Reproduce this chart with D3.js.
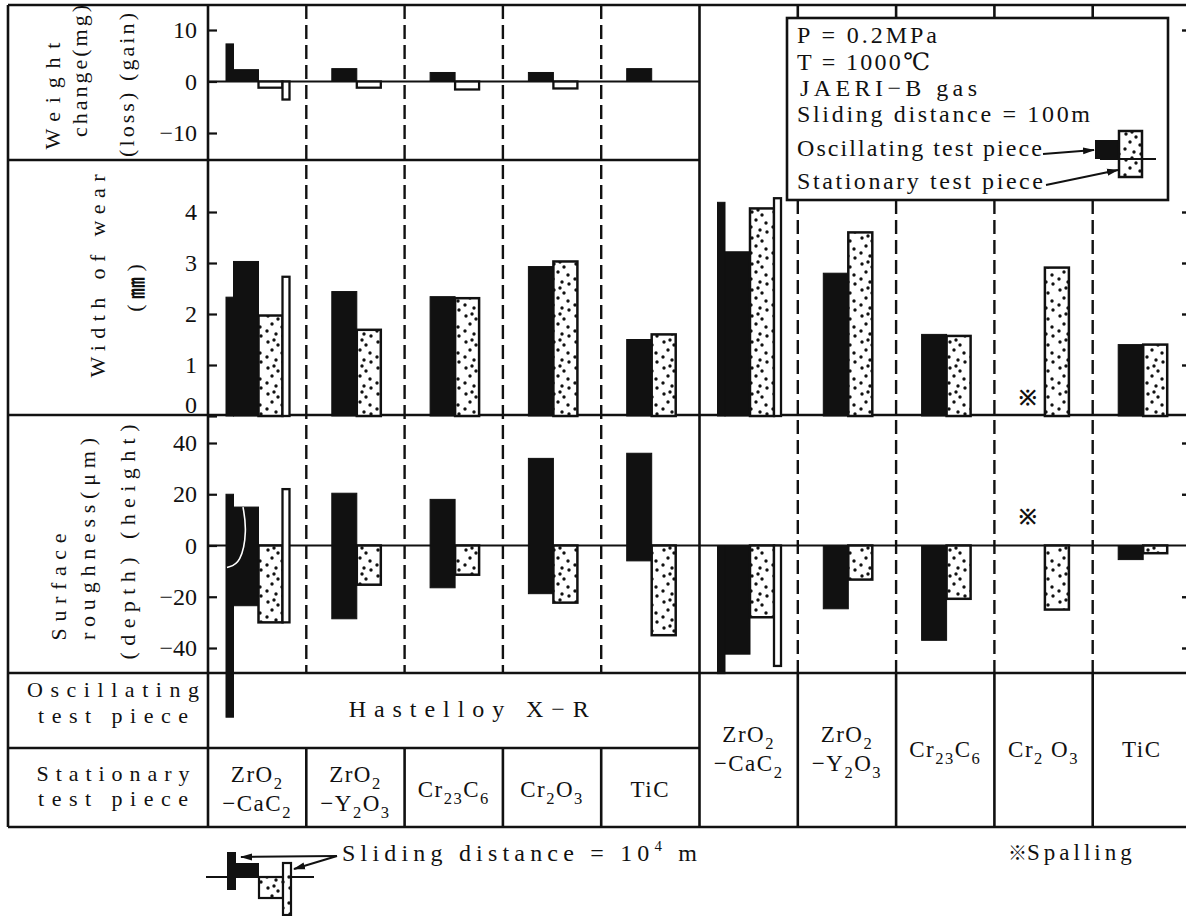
<!DOCTYPE html>
<html>
<head>
<meta charset="utf-8">
<script src="https://cdn.jsdelivr.net/npm/d3@7"></script>
<style>
  html, body { margin: 0; padding: 0; background: #fff; }
  svg text { font-family: "Liberation Serif", "DejaVu Serif", serif; fill: #111; }
</style>
</head>
<body>
<svg id="chart" width="1186" height="916"></svg>
<script>
// ---- Data -------------------------------------------------------------
// Columns 0-4: oscillating piece Hastelloy X-R against the stationary ceramics.
// Columns 5-9: oscillating and stationary piece of the same ceramic.
// "_n" marks a subscript, "|" a line break.
const stationaryPieces = ["ZrO_2|−CaC_2", "ZrO_2|−Y_2O_3", "Cr_23C_6", "Cr_2O_3", "TiC"];
const ceramicPairs     = ["ZrO_2|−CaC_2", "ZrO_2|−Y_2O_3", "Cr_23C_6", "Cr_2 O_3", "TiC"];
const oscillatingAlloy = "Hastelloy X−R";

const weightTicks = [-10, 0, 10];
const wearTicks   = [0, 1, 2, 3, 4];
const roughTicks  = [-40, -20, 0, 20, 40];

// Weight change (mg), sliding distance 100 m
const weightOsc100  = [2.3, 2.5, 1.75, 1.75, 2.5, null, null, null, null, null];
const weightStat100 = [-1.2, -1.2, -1.55, -1.35, null, null, null, null, null, null];
// Weight change (mg), sliding distance 10^4 m
const weightOsc1e4  = [7.3, null, null, null, null, null, null, null, null, null];
const weightStat1e4 = [-3.5, null, null, null, null, null, null, null, null, null];

// Width of wear (mm)
const wearOsc100  = [3.03, 2.44, 2.34, 2.93, 1.5, 3.22, 2.8, 1.6, null, 1.4];
const wearStat100 = [1.97, 1.69, 2.31, 3.03, 1.6, 4.07, 3.6, 1.57, 2.91, 1.4];
const wearOsc1e4  = [2.33, null, null, null, null, 4.19, null, null, null, null];
const wearStat1e4 = [2.73, null, null, null, null, 4.27, null, null, null, null];

// Surface roughness (um): height (+) and depth (-)
const roughOscHeight100  = [15, 20.4, 18, 34, 36, 0, 0, 0, null, 0];
const roughOscDepth100   = [-23.5, -28.6, -16.5, -18.8, -6, -42.4, -24.7, -37, null, -5.5];
const roughStatHeight100 = [0, 0, 0, 0, 0, 0, 0, 0, 0, 0];
const roughStatDepth100  = [-30, -15.3, -11.4, -22.3, -35, -28, -13.3, -20.8, -25, -3];
const roughOscHeight1e4  = [20, null, null, null, null, 0, null, null, null, null];
const roughOscDepth1e4   = [-67, null, null, null, null, -50, null, null, null, null];
const roughStatHeight1e4 = [22, null, null, null, null, 0, null, null, null, null];
const roughStatDepth1e4  = [-30, null, null, null, null, -47, null, null, null, null];

// Oscillating piece that spalled (no wear / roughness value)
const spalled = [false, false, false, false, false, false, false, false, true, false];

// ---- Layout -----------------------------------------------------------
const svg = d3.select("#chart");
const LEFT = 8, AXIS = 208, RIGHT = 1191, W = 1186;
const ROW = { top: 5, weight: 160, wear: 415, rough: 673, osc: 748, bottom: 827 };
const INK = "#111";
const REF_MARK = "\u203B\uFE0E";

const x = d3.scaleBand().domain(d3.range(10)).range([AXIS, RIGHT]);
const slot = { osc1e4: [18, 25.5], osc: [25.5, 50.5], stat: [50.5, 74.5], stat1e4: [74.5, 81.5] };

const yWeight = d3.scaleLinear().domain([-10, 10]).range([133, 30]);
const yWear   = d3.scaleLinear().domain([0, 4]).range([416, 212]);
const yRough  = d3.scaleLinear().domain([-40, 40]).range([648, 443]);

// ---- Defs: dotted fill, arrowheads -------------------------------------
const defs = svg.append("defs");
const pat = defs.append("pattern").attr("id", "dots")
  .attr("patternUnits", "userSpaceOnUse").attr("width", 22).attr("height", 26);
pat.append("rect").attr("width", 22).attr("height", 26).attr("fill", "#fff");
[[4, 4], [14, 7], [8, 12], [18, 15], [3, 19], [12, 22], [19, 24], [10, 2]].forEach(([cx, cy]) =>
  pat.append("circle").attr("cx", cx).attr("cy", cy).attr("r", 1.7).attr("fill", INK));
defs.append("marker").attr("id", "arrow").attr("viewBox", "0 0 12 8")
  .attr("refX", 11).attr("refY", 4).attr("markerWidth", 12).attr("markerHeight", 8)
  .attr("markerUnits", "userSpaceOnUse").attr("orient", "auto")
  .append("path").attr("d", "M0,0.5 L12,4 L0,7.5 Z").attr("fill", INK);

// ---- Helpers ------------------------------------------------------------
function line(x1, y1, x2, y2, opts = {}) {
  return svg.append("line").attr("x1", x1).attr("y1", y1).attr("x2", x2).attr("y2", y2)
    .attr("stroke", INK).attr("stroke-width", opts.w || 2.6)
    .attr("stroke-dasharray", opts.dash || null)
    .attr("marker-end", opts.arrow ? "url(#arrow)" : null);
}

// Append text with "_n" subscripts and "^n" superscripts as tspans
function rich(textSel, str, size) {
  let shift = 0;
  str.split(/(_\d+|\^\d+)/).filter(Boolean).forEach(p => {
    let target = 0, s = size, t = p;
    if (p[0] === "_") { target = size * 0.3; s = size * 0.72; t = p.slice(1); }
    else if (p[0] === "^") { target = -size * 0.42; s = size * 0.62; t = p.slice(1); }
    textSel.append("tspan").attr("font-size", s).attr("dy", target - shift).text(t);
    shift = target;
  });
  return textSel;
}

function label(str, px, py, o = {}) {
  const t = svg.append("text").attr("x", px).attr("y", py)
    .attr("font-size", o.size || 22)
    .attr("text-anchor", o.anchor || "middle")
    .attr("letter-spacing", o.ls || null);
  if (o.len) t.attr("textLength", o.len).attr("lengthAdjust", "spacing");
  rich(t, str, o.size || 22);
  return t;
}

function vlabel(str, cx, cy, o = {}) {
  const t = svg.append("text").attr("transform", `translate(${cx},${cy}) rotate(-90)`)
    .attr("font-size", o.size || 22).attr("text-anchor", "middle")
    .attr("dominant-baseline", "central");
  if (o.len) t.attr("textLength", o.len).attr("lengthAdjust", "spacing");
  t.text(str);
  return t;
}

// ---- Frame and grid ------------------------------------------------------
[ROW.top, ROW.wear, ROW.rough, ROW.bottom].forEach(y => line(LEFT, y, W, y));
[ROW.weight, ROW.osc].forEach(y => line(LEFT, y, x(5), y));
[LEFT, AXIS, x(5)].forEach(xx => line(xx, ROW.top, xx, ROW.bottom));

const DASH = "14 6";
[1, 2, 3, 4].forEach(i => {
  line(x(i), ROW.top, x(i), ROW.rough, { dash: DASH, w: 2.4 });
  line(x(i), ROW.osc, x(i), ROW.bottom);
});
const BOX = { x0: 787, x1: 1168, y0: 18, y1: 200 };
[6, 7, 8, 9].forEach(i => {
  line(x(i), ROW.top, x(i), BOX.y0);
  line(x(i), BOX.y1, x(i), ROW.rough, { dash: DASH, w: 2.4 });
  line(x(i), ROW.rough, x(i), ROW.bottom);
});

// zero lines
line(AXIS, yWeight(0), x(5), yWeight(0), { w: 2.2 });
line(AXIS, yRough(0), W, yRough(0), { w: 2.2 });

// ---- Axes ------------------------------------------------------------------
function leftAxis(scale, ticks) {
  const g = svg.append("g").attr("transform", `translate(${AXIS},0)`)
    .call(d3.axisLeft(scale).tickValues(ticks).tickSize(-9).tickPadding(11).tickFormat(d3.format("d")));
  g.select(".domain").remove();
  g.selectAll("line").attr("stroke", INK).attr("stroke-width", 2.2);
  g.selectAll("text").attr("font-size", 24).attr("font-family", "Liberation Serif, serif").attr("fill", INK);
  return g;
}
leftAxis(yWeight, weightTicks);
const wearAxis = leftAxis(yWear, wearTicks);
wearAxis.selectAll(".tick").filter(d => d === 0).select("text").attr("dy", "-0.15em");
leftAxis(yRough, roughTicks);

// partial right-hand ticks at the clipped edge
function rightTicks(scale, ticks) {
  const g = svg.append("g").attr("transform", `translate(${RIGHT},0)`)
    .call(d3.axisLeft(scale).tickValues(ticks).tickSize(9).tickFormat(""));
  g.select(".domain").remove();
  g.selectAll("line").attr("stroke", INK).attr("stroke-width", 2.4);
}
rightTicks(yWeight, [10]);
rightTicks(yWear, [1, 2, 3, 4]);
rightTicks(yRough, [-40, -20, 20, 40]);

// ---- Bars ------------------------------------------------------------------
const STYLE = {
  osc:     { fill: INK, stroke: INK, w: 1 },
  osc1e4:  { fill: INK, stroke: INK, w: 1 },
  stat:    { fill: "url(#dots)", stroke: INK, w: 2.5 },
  statW:   { fill: "#fff", stroke: INK, w: 2.3 },
  stat1e4: { fill: "#fff", stroke: INK, w: 2.3 }
};
function bars(cls, lows, highs, scale, slotKey, styleKey) {
  const st = STYLE[styleKey];
  const rows = d3.range(10).filter(i => lows[i] != null && highs[i] != null)
    .map(i => ({ i, lo: lows[i], hi: highs[i] }));
  svg.append("g").attr("class", cls).selectAll("rect").data(rows).join("rect")
    .attr("x", d => x(d.i) + slot[slotKey][0])
    .attr("width", slot[slotKey][1] - slot[slotKey][0])
    .attr("y", d => scale(Math.max(d.lo, d.hi)))
    .attr("height", d => Math.abs(scale(d.lo) - scale(d.hi)))
    .attr("fill", st.fill).attr("stroke", st.stroke).attr("stroke-width", st.w);
}
const fromZero = arr => arr.map(v => (v == null ? null : 0));

// weight change
bars("w-osc", fromZero(weightOsc100), weightOsc100, yWeight, "osc", "osc");
bars("w-osc4", fromZero(weightOsc1e4), weightOsc1e4, yWeight, "osc1e4", "osc1e4");
bars("w-stat", fromZero(weightStat100), weightStat100, yWeight, "stat", "statW");
bars("w-stat4", fromZero(weightStat1e4), weightStat1e4, yWeight, "stat1e4", "stat1e4");

// width of wear
bars("e-osc", fromZero(wearOsc100), wearOsc100, yWear, "osc", "osc");
bars("e-osc4", fromZero(wearOsc1e4), wearOsc1e4, yWear, "osc1e4", "osc1e4");
bars("e-stat", fromZero(wearStat100), wearStat100, yWear, "stat", "stat");
bars("e-stat4", fromZero(wearStat1e4), wearStat1e4, yWear, "stat1e4", "stat1e4");

// surface roughness
bars("r-osc4", roughOscDepth1e4, roughOscHeight1e4, yRough, "osc1e4", "osc1e4");
bars("r-osc", roughOscDepth100, roughOscHeight100, yRough, "osc", "osc");
bars("r-stat", roughStatDepth100, roughStatHeight100, yRough, "stat", "stat");
bars("r-stat4", roughStatDepth1e4, roughStatHeight1e4, yRough, "stat1e4", "stat1e4");

// hairline crack visible in the first roughness bar
const crack = [[35, 15], [39, 6], [33, -7], [19, -8.6]];
svg.append("path")
  .attr("d", d3.line().curve(d3.curveBasis)(crack.map(([dx, v]) => [x(0) + dx, yRough(v)])))
  .attr("fill", "none").attr("stroke", "#fff").attr("stroke-width", 1.6);

// spalling markers
d3.range(10).filter(i => spalled[i]).forEach(i => {
  const cx = x(i) + (slot.osc[0] + slot.osc[1]) / 2 - 4;
  [[yWear(0.35)], [yRough(11)]].forEach(([cy]) =>
    svg.append("text").attr("x", cx).attr("y", cy).attr("font-size", 21)
      .attr("text-anchor", "middle").attr("dominant-baseline", "central")
      .attr("font-family", "Noto Sans CJK JP, sans-serif").attr("font-weight", "bold")
      .style("fill", INK).text(REF_MARK));
});

// ---- Axis titles (rotated) -------------------------------------------------
vlabel("Weight", 52, 96, { len: 107 });
vlabel("change(mg)", 79, 71, { len: 132 });
vlabel("(loss)  (gain)", 126, 85, { len: 144 });
vlabel("Width of wear", 97, 276, { len: 203 });
svg.append("text").attr("transform", "translate(134,288) rotate(-90)")
  .attr("font-size", 22).attr("text-anchor", "middle").attr("dominant-baseline", "central")
  .call(t => {
    t.append("tspan").text("( ");
    t.append("tspan").attr("font-family", "Noto Sans CJK JP, sans-serif").attr("font-size", 22)
      .attr("font-weight", "bold").text("㎜");
    t.append("tspan").text(" )");
  });
vlabel("Surface", 58, 587, { len: 107 });
vlabel("roughness(μm)", 87, 539, { len: 202 });
vlabel("(depth)  (height)", 127, 542, { len: 235 });

// ---- Table rows --------------------------------------------------------------
label("Oscillating", 113, 697, { len: 172 });
label("test piece", 113, 723, { len: 150 });
label("Stationary", 113, 781, { len: 153 });
label("test piece", 113, 806, { len: 150 });
label(oscillatingAlloy, (x(0) + x(5)) / 2 + 15, 717, { size: 24, len: 240 });

function cellText(str, cx, yOne, yTwo) {
  const parts = str.split("|");
  if (parts.length === 1) label(parts[0], cx, yOne, { size: 23, ls: 1.5 });
  else parts.forEach((p, k) => label(p, cx, yTwo[k], { size: 23, ls: 1.5 }));
}
stationaryPieces.forEach((s, i) => cellText(s, x(i) + x.bandwidth() / 2, 797, [782, 811]));
ceramicPairs.forEach((s, i) => cellText(s, x(i + 5) + x.bandwidth() / 2, 757, [742, 771]));

// ---- Conditions box ------------------------------------------------------------
svg.append("rect").attr("x", BOX.x0).attr("y", BOX.y0)
  .attr("width", BOX.x1 - BOX.x0).attr("height", BOX.y1 - BOX.y0)
  .attr("fill", "#fff").attr("stroke", INK).attr("stroke-width", 2.6);
label("P = 0.2MPa", 797, 43, { anchor: "start", size: 24, len: 140 });
label("T = 1000℃", 797, 70, { anchor: "start", size: 24, len: 133 });
label("JAERI−B gas", 800, 96, { anchor: "start", size: 24, len: 177 });
label("Sliding distance = 100m", 797, 122, { anchor: "start", size: 24, len: 293 });
label("Oscillating test piece", 797, 156, { anchor: "start", size: 24, len: 245 });
label("Stationary test piece", 797, 189, { anchor: "start", size: 24, len: 246 });
// key glyph
svg.append("rect").attr("x", 1095).attr("y", 140).attr("width", 24).attr("height", 19).attr("fill", INK);
svg.append("rect").attr("x", 1119).attr("y", 131).attr("width", 23).attr("height", 46)
  .attr("fill", "url(#dots)").attr("stroke", INK).attr("stroke-width", 2.5);
line(1100, 159, 1156, 159, { w: 2 });
line(1043, 154, 1094, 150, { w: 2, arrow: true });
line(1046, 185, 1118, 170, { w: 2, arrow: true });

// ---- Key for the 10^4 m bars --------------------------------------------------------
svg.append("rect").attr("x", 227).attr("y", 852).attr("width", 9).attr("height", 38).attr("fill", INK);
svg.append("rect").attr("x", 236).attr("y", 863).attr("width", 23).attr("height", 14).attr("fill", INK);
line(206, 877, 314, 877, { w: 2 });
svg.append("rect").attr("x", 259).attr("y", 877).attr("width", 24).attr("height", 21)
  .attr("fill", "url(#dots)").attr("stroke", INK).attr("stroke-width", 2.2);
svg.append("rect").attr("x", 283).attr("y", 863).attr("width", 8).attr("height", 52)
  .attr("fill", "url(#dots)").attr("stroke", INK).attr("stroke-width", 2.2);
line(337, 856, 241, 857, { w: 2, arrow: true });
line(337, 856, 294, 869, { w: 2, arrow: true });
label("Sliding distance = 10^4 m", 342, 861, { anchor: "start", size: 24, len: 355 });
svg.append("text").attr("x", 1008).attr("y", 860).attr("font-size", 23)
  .call(t => {
    t.append("tspan").attr("font-family", "Noto Sans CJK JP, sans-serif").attr("font-size", 19)
      .attr("font-weight", "bold").style("fill", INK).text(REF_MARK);
    t.append("tspan").attr("letter-spacing", 4).text("Spalling");
  });
</script>
</body>
</html>
